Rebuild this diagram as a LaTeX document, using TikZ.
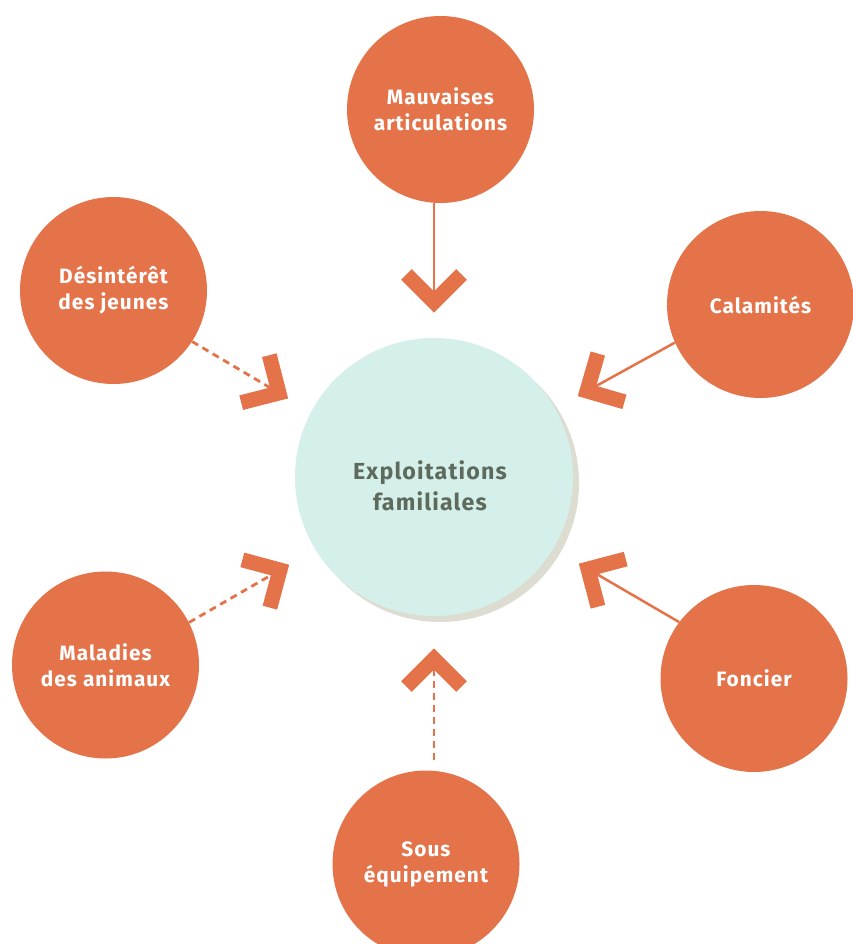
\documentclass[tikz,border=0pt]{standalone}
\usepackage{fontspec}
\setsansfont{Fira Sans}[LetterSpace=5]
\usetikzlibrary{calc}
\definecolor{orng}{HTML}{E4734A}
\definecolor{teal}{HTML}{D5EFEA}
\definecolor{shad}{HTML}{DCDCD1}
\definecolor{ctxt}{HTML}{5E6A5C}
\begin{document}
\begin{tikzpicture}[x=1pt,y=-1pt,
  cause/.style={circle,fill=orng,minimum size=187pt,inner sep=0pt,align=center,text=white,
    font=\sffamily\bfseries\fontsize{20.8}{26}\selectfont},
  solidline/.style={draw=orng,line width=2.5pt},
  dashline/.style={draw=orng,line width=2.8pt,dash pattern=on 7pt off 5pt},
  chevron/.style={draw=orng,line width=15pt,line cap=butt,line join=miter},
]
\useasboundingbox (0,0) rectangle (853,944);
% central circle
\node[circle,fill=shad,minimum size=278pt,inner sep=0pt] (shadow) at (440,483) {};
\node[circle,fill=teal,minimum size=278pt,inner sep=0pt] (centre) at (434,477) {};
\node[align=center,text=ctxt,font=\sffamily\bfseries\fontsize{23.2}{31}\selectfont] (ctext) at (430,486) {Exploitations\\familiales};
% causes
\node[cause] (mauv) at (440.5,109.5) {Mauvaises\\articulations};
\node[cause] (desi) at (113.5,290.5) {Désintérêt\\des jeunes};
\node[cause] (cala) at (760.5,304.5) {Calamités};
\node[cause] (mala) at (105.5,665) {Maladies\\des animaux};
\node[cause] (fonc) at (754,678.5) {Foncier};
\node[cause] (sous) at (426,864) {Sous\\équipement};
% tips
\coordinate (t1) at (434,302);
\coordinate (t2) at (279,393);
\coordinate (t3) at (587,391);
\coordinate (t4) at (280,570);
\coordinate (t5) at (588,569);
\coordinate (t6) at (434,659);
% connectors
\draw[solidline] (t1 |- mauv.south) -- (t1);
\draw[chevron] ($(t1)!39pt!45:(t1 |- mauv.center)$) -- (t1) -- ($(t1)!39pt!-45:(t1 |- mauv.center)$);
\draw[dashline] (desi.-33) -- (t2);
\draw[chevron] ($(t2)!39pt!45:(desi.-33)$) -- (t2) -- ($(t2)!39pt!-45:(desi.-33)$);
\draw[solidline] (cala.204) -- (t3);
\draw[chevron] ($(t3)!39pt!45:(cala.204)$) -- (t3) -- ($(t3)!39pt!-45:(cala.204)$);
\draw[dashline] (mala.27) -- (t4);
\draw[chevron] ($(t4)!39pt!45:(mala.27)$) -- (t4) -- ($(t4)!39pt!-45:(mala.27)$);
\draw[solidline] (fonc.143) -- (t5);
\draw[chevron] ($(t5)!39pt!45:(fonc.143)$) -- (t5) -- ($(t5)!39pt!-45:(fonc.143)$);
\draw[dashline,shorten <=10pt] (t6 |- sous.north) -- (t6);
\draw[chevron] ($(t6)!39pt!45:(t6 |- sous.center)$) -- (t6) -- ($(t6)!39pt!-45:(t6 |- sous.center)$);
\end{tikzpicture}
\end{document}
